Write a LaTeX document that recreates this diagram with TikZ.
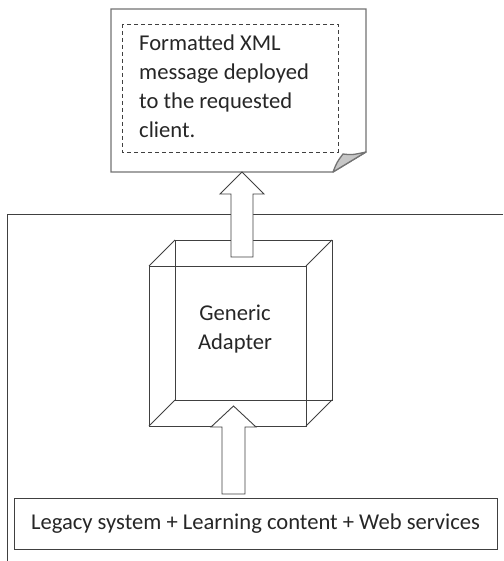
\documentclass[tikz,border=0pt]{standalone}
\usepackage{fontspec}
\setmainfont{Carlito}
\begin{document}
\begin{tikzpicture}[x=1pt,y=-1pt,
  line/.style={draw=black!75, line width=0.9pt},
  docline/.style={draw=black!55, line width=1.3pt},
  blockarrow/.style={line, fill=white, line join=miter},
  lbl/.style={inner sep=0pt, font=\fontsize{22.6}{29}\selectfont, text=black!85}]
\useasboundingbox (0,0) rectangle (503,561);
% outer frame (open at right and bottom)
\draw[line] (503,214) -- (7,214) -- (7,561);
% document note
\coordinate (d1) at (111,9);
\coordinate (d2) at (366,9);
\coordinate (d3) at (366,152);
\coordinate (d4) at (333,172);
\coordinate (d5) at (111,172);
\draw[docline, fill=white] (d1) -- (d2) -- (d3) -- (d4) -- (d5) -- cycle;
\draw[docline, fill=black!22, line join=round] (d4) .. controls (337,162) .. (343,154) .. controls (352,155) .. (d3) -- cycle;
\draw[line, dashed, dash pattern=on 4pt off 3pt, line width=0.8pt] (122,24) rectangle (338,152);
\node[lbl, anchor=north west, align=left] (msg) at (139,35)
  {Formatted XML\\message deployed\\to the requested\\client.};
% cube
\coordinate (f1) at (149,266);
\coordinate (f2) at (306,266);
\coordinate (f3) at (306,426);
\coordinate (f4) at (149,426);
\coordinate (b1) at (175,240);
\coordinate (b2) at (332,240);
\coordinate (b3) at (332,400);
\coordinate (b4) at (175,400);
\draw[line] (b1) rectangle (b3);
\draw[line] (f1) rectangle (f3);
\draw[line] (f1) -- (b1) (f2) -- (b2) (f3) -- (b3) (f4) -- (b4);
\node[lbl, align=center] (adapter) at (235,329) {Generic\\Adapter};
% bottom box
\node[line, minimum width=483pt, minimum height=51pt, inner sep=0pt,
  font=\fontsize{22.6}{29}\selectfont, text=black!85] (src) at (255.5,523.5)
  {Legacy system + Learning content + Web services};
% top block arrow (from cube to note)
\draw[blockarrow] (231,257) -- (231,194) -- (220,194) -- (242,172) -- (264,194) -- (253,194) -- (253,257) -- cycle;
% bottom block arrow (from source box to cube)
\draw[blockarrow] (222,494) -- (222,427) -- (211,427) -- (233.5,406) -- (256,427) -- (245,427) -- (245,494) -- cycle;
\end{tikzpicture}
\end{document}
